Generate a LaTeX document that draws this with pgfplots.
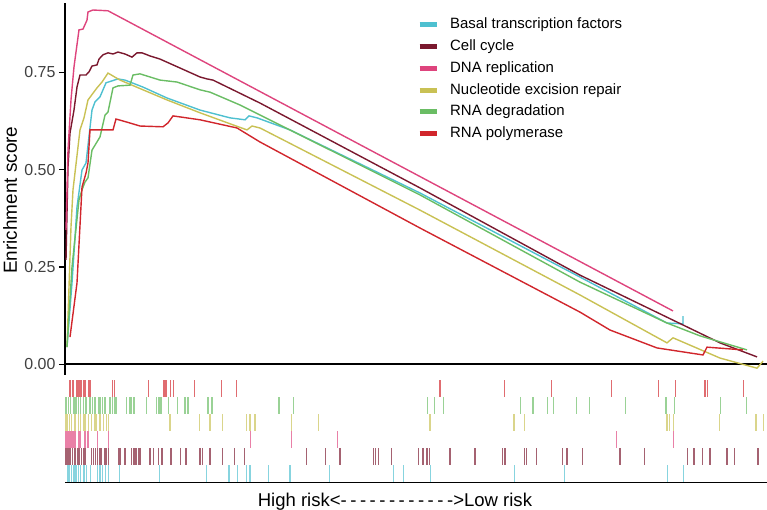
\documentclass[border=0pt]{standalone}
\usepackage{pgfplots}
\pgfplotsset{compat=1.18}
\usepackage{fontspec}
\setmainfont{Liberation Sans}
\newfontfamily\nolig{Liberation Sans}
\definecolor{cBasal}{RGB}{78,192,208}
\definecolor{cCell}{RGB}{122,24,46}
\definecolor{cDNA}{RGB}{222,68,125}
\definecolor{cNuc}{RGB}{201,193,84}
\definecolor{cDeg}{RGB}{106,189,100}
\definecolor{cPol}{RGB}{209,38,44}
\newcommand\dsh{-\kern3.5bp}
\begin{document}
\begin{tikzpicture}
\useasboundingbox (0,0) rectangle (767bp,510bp);
\begin{axis}[
  at={(65bp,135bp)}, anchor=south west, scale only axis,
  width=702bp, height=372bp,
  xmin=0, xmax=702, ymin=-0.0275, ymax=0.928,
  axis x line*=middle, axis y line*=left,
  axis line style={line width=1.6bp, black},
  xtick=\empty,
  ytick={0,0.25,0.5,0.75},
  /pgf/number format/assume math mode=true,
  yticklabel style={/pgf/number format/.cd, fixed, fixed zerofill, precision=2, /tikz/.cd, font=\fontsize{16}{19}\selectfont, text=black!75},
  tick align=outside, major tick length=6bp, tick style={line width=1.2bp, black},
  ylabel={Enrichment score},
  ylabel style={font=\fontsize{19}{22}\selectfont, at={(axis description cs:-0.0783,0.47)}, anchor=center},
  legend cell align=left,
  legend image code/.code={\draw[#1, line width=5bp, line cap=butt] (0bp,0bp) -- (17bp,0bp);},
  legend style={at={(axis description cs:0.5014,0.961)}, anchor=north west, draw=none, fill=none,
    font=\fontsize{15}{18}\selectfont, row sep=7.8bp, column sep=11bp, inner sep=0pt,
    nodes={inner sep=0pt, text height=11bp, text depth=3bp}},
  every axis plot/.append style={line width=1.4bp},
]
\addplot[cBasal] coordinates {(2,0.044) (7,0.209) (12,0.404) (17,0.499) (21,0.517) (27,0.653) (30,0.674) (35,0.687) (41,0.723) (53,0.733) (60,0.730) (78,0.712) (102,0.684) (135,0.653) (165,0.633) (180,0.628) (184,0.638) (192,0.633) (225,0.602) (355,0.440) (515,0.224) (602,0.106) (618,0.104) (618,0.124)};
\addlegendentry{Basal transcription factors}
\addplot[cCell] coordinates {(1,0.268) (3,0.507) (5,0.594) (9,0.653) (12,0.712) (15,0.743) (21,0.743) (24,0.751) (27,0.766) (32,0.769) (34,0.784) (38,0.795) (43,0.800) (48,0.797) (53,0.802) (60,0.797) (67,0.789) (72,0.800) (77,0.800) (85,0.792) (95,0.784) (135,0.738) (142,0.733) (148,0.730) (195,0.671) (355,0.453) (515,0.229) (655,0.055) (692,0.019)};
\addlegendentry{Cell cycle}
\addplot[cDNA] coordinates {(1,0.345) (3,0.550) (6,0.679) (9,0.764) (14,0.859) (18,0.861) (22,0.884) (23,0.905) (28,0.910) (43,0.908) (608,0.137)};
\addlegendentry{DNA replication}
\addplot[cNuc] coordinates {(2,0.044) (6,0.353) (8,0.448) (15,0.602) (19,0.633) (23,0.679) (32,0.710) (37,0.725) (43,0.748) (55,0.730) (78,0.705) (102,0.679) (135,0.646) (168,0.615) (182,0.602) (187,0.612) (195,0.607) (355,0.396) (515,0.178) (602,0.055) (608,0.068) (655,0.016) (692,-0.010) (698,0.008)};
\addlegendentry{Nucleotide excision repair}
\addplot[cDeg] coordinates {(2,0.044) (7,0.250) (14,0.422) (17,0.448) (20,0.468) (23,0.479) (27,0.550) (35,0.584) (40,0.640) (43,0.648) (48,0.710) (53,0.715) (65,0.717) (68,0.743) (75,0.746) (95,0.730) (112,0.725) (135,0.705) (145,0.699) (175,0.666) (355,0.435) (515,0.211) (602,0.106) (635,0.073) (682,0.037)};
\addlegendentry{RNA degradation}
\addplot[cPol] coordinates {(5,0.070) (12,0.209) (17,0.455) (21,0.491) (23,0.517) (25,0.602) (48,0.602) (51,0.630) (62,0.622) (75,0.612) (98,0.610) (103,0.620) (108,0.638) (135,0.628) (172,0.607) (195,0.571) (355,0.350) (515,0.134) (545,0.088) (592,0.042) (638,0.024) (642,0.044) (678,0.037)};
\addlegendentry{RNA polymerase}
\end{axis}
\begin{axis}[
  at={(65bp,27.5bp)}, anchor=south west, scale only axis,
  width=702bp, height=102.5bp,
  xmin=0, xmax=702, ymin=0, ymax=6,
  axis x line*=bottom, axis y line=none,
  axis line style={line width=1.6bp, black},
  xtick=\empty, ytick=\empty, clip=false,
  xlabel={\nolig High risk<\dsh\dsh\dsh\dsh\dsh\dsh\dsh\dsh\dsh\dsh\dsh->Low risk},
  xlabel style={font=\fontsize{18.6}{22}\selectfont, at={(axis description cs:0.47,0)}, anchor=north, inner sep=0pt, yshift=-10bp},
  every axis plot/.append style={only marks, mark=|, mark size=8.5bp, mark options={line width=1.2bp, opacity=0.68}},
]
\addplot[cPol] coordinates {(5,5.5) (8,5.5) (12,5.5) (13.3,5.5) (15,5.5) (16.7,5.5) (18.3,5.5) (20,5.5) (23.3,5.5) (25,5.5) (47.3,5.5) (49.3,5.5) (83.5,5.5) (99,5.5) (101,5.5) (105.7,5.5) (108.3,5.5) (129.3,5.5) (156.7,5.5) (171.7,5.5) (375,5.5) (439.3,5.5) (486.7,5.5) (546.7,5.5) (593.3,5.5) (610.7,5.5) (640,5.5) (642.3,5.5) (678.3,5.5)};
\addplot[cDeg] coordinates {(1,4.5) (3.3,4.5) (5.7,4.5) (8.3,4.5) (10,4.5) (11.7,4.5) (13.3,4.5) (15.7,4.5) (18.3,4.5) (21,4.5) (24.3,4.5) (25.7,4.5) (27.7,4.5) (30,4.5) (33.3,4.5) (35,4.5) (37.7,4.5) (40,4.5) (44.3,4.5) (45.7,4.5) (47.7,4.5) (50,4.5) (51.7,4.5) (61.7,4.5) (65,4.5) (66.7,4.5) (69,4.5) (81.7,4.5) (91.7,4.5) (94,4.5) (96,4.5) (103.3,4.5) (112.3,4.5) (120,4.5) (123,4.5) (143,4.5) (147,4.5) (214,4.5) (228.3,4.5) (362.7,4.5) (369.3,4.5) (378.3,4.5) (455.7,4.5) (468,4.5) (482.7,4.5) (488.3,4.5) (511.7,4.5) (524.3,4.5) (560.7,4.5) (601,4.5) (609.3,4.5) (655.5,4.5) (681.7,4.5)};
\addplot[cNuc] coordinates {(1,3.5) (2.3,3.5) (4.3,3.5) (6.7,3.5) (10,3.5) (13.3,3.5) (15.7,3.5) (18.3,3.5) (20,3.5) (23.3,3.5) (26.7,3.5) (30,3.5) (31.7,3.5) (35,3.5) (38.3,3.5) (41.7,3.5) (43.3,3.5) (105,3.5) (134.3,3.5) (145,3.5) (157.3,3.5) (181.7,3.5) (185,3.5) (190,3.5) (226.7,3.5) (253.3,3.5) (365,3.5) (449,3.5) (459.7,3.5) (602,3.5) (604.3,3.5) (608.7,3.5) (654.3,3.5) (691,3.5) (698.3,3.5)};
\addplot[cDNA] coordinates {(0.5,2.5) (2,2.5) (4,2.5) (6,2.5) (8,2.5) (10,2.5) (13.3,2.5) (15,2.5) (20,2.5) (22.3,2.5) (23.3,2.5) (32.5,2.5) (43.3,2.5) (185.7,2.5) (226.3,2.5) (272.7,2.5) (551.7,2.5) (608.3,2.5)};
\addplot[cCell] coordinates {(0.5,1.5) (1.5,1.5) (2.5,1.5) (3.5,1.5) (5,1.5) (7.7,1.5) (10,1.5) (12.3,1.5) (13.3,1.5) (14.3,1.5) (16.7,1.5) (18.3,1.5) (20,1.5) (26.7,1.5) (28.3,1.5) (30.7,1.5) (32.3,1.5) (35,1.5) (36.7,1.5) (40,1.5) (41.7,1.5) (43.3,1.5) (53.3,1.5) (55,1.5) (60,1.5) (66.7,1.5) (68.3,1.5) (70,1.5) (71.7,1.5) (73.3,1.5) (75,1.5) (85,1.5) (88.3,1.5) (93.3,1.5) (97,1.5) (106,1.5) (115.5,1.5) (121,1.5) (135,1.5) (137.3,1.5) (145,1.5) (157.3,1.5) (169.5,1.5) (179.3,1.5) (241.7,1.5) (260.7,1.5) (275,1.5) (308.3,1.5) (310.5,1.5) (313.3,1.5) (326.5,1.5) (353.3,1.5) (358,1.5) (362,1.5) (364.3,1.5) (385,1.5) (410,1.5) (437.7,1.5) (440,1.5) (459.3,1.5) (461.7,1.5) (471.7,1.5) (497.5,1.5) (502,1.5) (517.5,1.5) (555,1.5) (579.3,1.5) (622.5,1.5) (629,1.5) (637.7,1.5) (645,1.5) (662,1.5) (669.3,1.5) (693,1.5)};
\addplot[cBasal] coordinates {(3,0.5) (4.3,0.5) (6.7,0.5) (8.3,0.5) (10,0.5) (11.7,0.5) (13.3,0.5) (15.7,0.5) (19,0.5) (21.7,0.5) (25.7,0.5) (32.3,0.5) (35,0.5) (37.7,0.5) (40.7,0.5) (43.3,0.5) (54.3,0.5) (94.3,0.5) (141.7,0.5) (164,0.5) (172.7,0.5) (181.7,0.5) (185,0.5) (203.3,0.5) (225,0.5) (264.3,0.5) (328.3,0.5) (338.3,0.5) (365.7,0.5) (449.3,0.5) (499.3,0.5) (602.5,0.5) (618.3,0.5)};
\end{axis}
\end{tikzpicture}
\end{document}
